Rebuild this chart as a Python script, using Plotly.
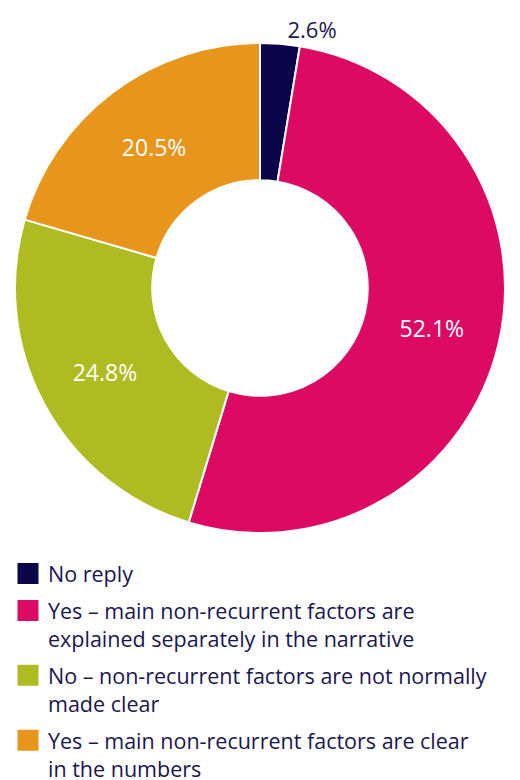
import plotly.graph_objects as go

labels = [
    "No reply",
    "Yes – main non-recurrent factors are<br>explained separately in the narrative",
    "No – non-recurrent factors are not normally<br>made clear",
    "Yes – main non-recurrent factors are clear<br>in the numbers",
]
values = [2.6, 52.1, 24.8, 20.5]
value_text = ["2.6%", "52.1%", "24.8%", "20.5%"]
colors = ["#0b0549", "#dc0a62", "#aebb21", "#e8951c"]
text_positions = ["outside", "inside", "inside", "inside"]

NAVY = "#1a1650"
FONT = "Open Sans, Lato, DejaVu Sans, sans-serif"

# the page body has an 8px margin, so the figure is sized to the remaining area
W, H = 512, 772

fig = go.Figure()
fig.add_trace(go.Pie(
    labels=labels,
    values=values,
    text=value_text,
    textinfo="text",
    textposition=text_positions,
    insidetextorientation="horizontal",
    insidetextfont=dict(color="white", size=23, family=FONT),
    outsidetextfont=dict(color=NAVY, size=22, family=FONT),
    marker=dict(colors=colors, line=dict(color="white", width=2)),
    hole=0.44,
    sort=False,
    direction="clockwise",
    rotation=0,
    showlegend=False,
    domain=dict(x=[7/W, 497/W], y=[247/H, 737/H]),
))

for name, c in zip(labels, colors):
    fig.add_trace(go.Scatter(
        x=[None], y=[None], mode="markers", name=name,
        marker=dict(symbol="square", size=16, color=c, line=dict(color=c, width=5)),
        legendgroup=name,
    ))

fig.update_layout(
    width=W, height=H,
    margin=dict(l=0, r=0, t=0, b=0, autoexpand=False),
    paper_bgcolor="white", plot_bgcolor="white",
    xaxis=dict(visible=False), yaxis=dict(visible=False),
    legend=dict(
        x=0, y=(H-545)/H, xanchor="left", yanchor="top",
        font=dict(size=21.5, color=NAVY, family=FONT),
        tracegroupgap=6,
        valign="top",
        bgcolor="rgba(0,0,0,0)",
    ),
)

fig.write_html("out.html")
